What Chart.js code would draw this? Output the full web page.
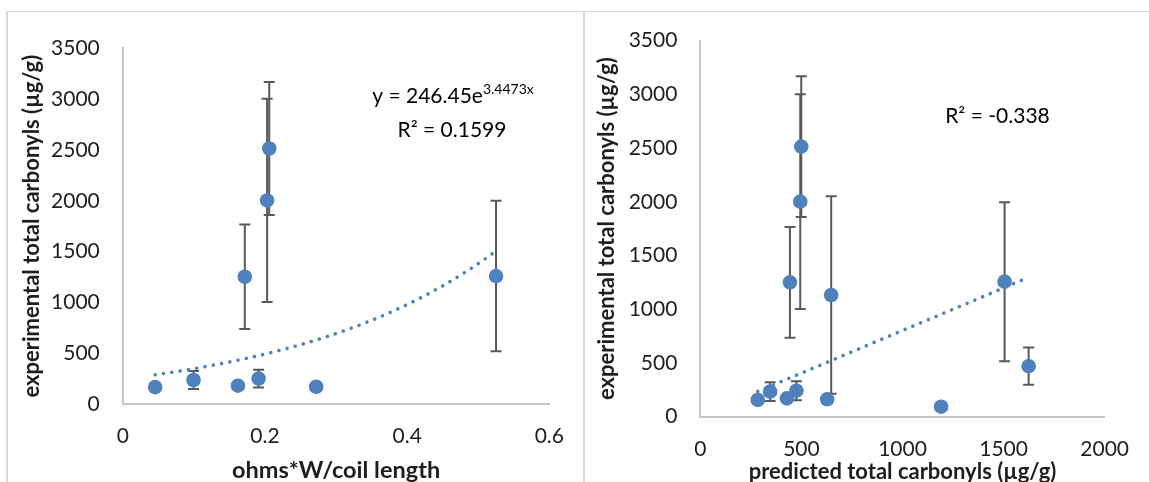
<!DOCTYPE html>
<html>
<head>
<meta charset="utf-8">
<script src="https://cdn.jsdelivr.net/npm/chart.js@4.4.1/dist/chart.umd.min.js"></script>
<style>
  html, body { margin: 0; padding: 0; background: #fff; }
  body { width: 1149px; height: 482px; overflow: hidden; position: relative; }
  .panel { position: absolute; top: 11px; border-top: 1px solid #d9d9d9; border-left: 2px solid #d9d9d9; height: 480px; }
  canvas { position: absolute; top: 0; }
</style>
</head>
<body>
<div class="panel" style="left:6px; width:578px;"></div>
<div class="panel" style="left:583px; width:570px;"></div>
<canvas id="left" width="584" height="500" style="left:0; width:584px; height:500px;"></canvas>
<canvas id="right" width="565" height="500" style="left:584px; width:565px; height:500px;"></canvas>
<script>
// left chart: ohms*W/coil length vs experimental carbonyls
const coilX = [0.0455, 0.0995, 0.162, 0.191, 0.272, 0.1716, 0.203, 0.206, 0.525];
const coilY = [166, 236, 180, 250, 170, 1252, 2003, 2514, 1259];
const coilErr = [0, 89, 0, 87, 0, 515, 1000, 655, 740];
// exponential trendline shown on the chart: y = 246.45 e^(3.4473x)
const expA = 246.45;
const expB = 3.4473;
const expRange = [0.0455, 0.525];

// right chart: predicted vs experimental carbonyls
const predX = [284, 345, 428, 475, 627, 443, 494, 499, 647, 1191, 1505, 1624];
const predY = [156, 233, 171, 242, 162, 1251, 2002, 2514, 1133, 93, 1257, 470];
const predErr = [0, 88, 0, 88, 0, 515, 1000, 655, 920, 0, 740, 173];
const linTrendX = [284, 1624];
const linTrendY = [235, 1297];

const yTicks = [0, 500, 1000, 1500, 2000, 2500, 3000, 3500];

const BLUE = '#4F81BD';
const BAR = '#595959';
const AXIS = '#c6c6c6';
const TEXT = '#1e1e1e';

Chart.defaults.font.family = 'Lato';
Chart.defaults.font.size = 21;
Chart.defaults.color = TEXT;

const errorBars = {
  id: 'errorBars',
  beforeDatasetsDraw(chart, args, opts) {
    const ctx = chart.ctx;
    const xs = chart.scales.x, ys = chart.scales.y;
    ctx.save();
    ctx.strokeStyle = BAR;
    ctx.lineWidth = 2;
    opts.x.forEach((xv, i) => {
      const e = opts.err[i];
      if (!e) return;
      const px = xs.getPixelForValue(xv);
      const top = ys.getPixelForValue(opts.y[i] + e);
      const bot = ys.getPixelForValue(opts.y[i] - e);
      ctx.beginPath();
      ctx.moveTo(px, top); ctx.lineTo(px, bot);
      ctx.moveTo(px - 5.5, top); ctx.lineTo(px + 5.5, top);
      ctx.moveTo(px - 5.5, bot); ctx.lineTo(px + 5.5, bot);
      ctx.stroke();
    });
    ctx.restore();
  }
};

const fitText = {
  id: 'fitText',
  afterDatasetsDraw(chart, args, opts) {
    const ctx = chart.ctx;
    ctx.save();
    ctx.fillStyle = '#000';
    ctx.textBaseline = 'alphabetic';
    opts.lines.forEach(line => {
      let total = 0;
      line.parts.forEach(p => {
        ctx.font = p.sup ? '14px Lato' : '21px Lato';
        total += ctx.measureText(p.text).width;
      });
      let x = line.cx - total / 2;
      line.parts.forEach(p => {
        ctx.font = p.sup ? '14px Lato' : '21px Lato';
        ctx.fillText(p.text, x, line.y - (p.sup ? 9 : 0));
        x += ctx.measureText(p.text).width;
      });
    });
    ctx.restore();
  }
};

function fmt(v) { return String(+v.toFixed(2)); }

function makeScales(xMin, xMax, xStep, xTitle, xTitleSize, xHeight, yWidth, yTitlePad) {
  return {
    x: {
      type: 'linear', min: xMin, max: xMax,
      afterBuildTicks: s => { s.ticks = []; for (let v = xMin; v <= xMax + 1e-9; v += xStep) s.ticks.push({ value: +v.toFixed(4) }); },
      ticks: { padding: 20, callback: fmt, maxRotation: 0 },
      grid: { display: false, drawTicks: false },
      border: { display: true, color: AXIS, width: 2 },
      title: { display: true, text: xTitle, font: { size: xTitleSize, weight: 'bold' }, padding: { top: 0, bottom: 15 } },
      afterFit: s => { s.height = xHeight; }
    },
    y: {
      type: 'linear', min: 0, max: 3500,
      afterBuildTicks: s => { s.ticks = yTicks.map(v => ({ value: v })); },
      ticks: { padding: 23, callback: fmt },
      grid: { display: false, drawTicks: false },
      border: { display: true, color: AXIS, width: 2 },
      title: { display: true, text: 'experimental total carbonyls (µg/g)', font: { size: 22, weight: 'bold' }, padding: { top: yTitlePad, bottom: 0 } },
      afterFit: s => { s.width = yWidth; }
    }
  };
}

// exponential fit curve from the equation printed on the chart
const expCurve = [];
for (let i = 0; i <= 60; i++) {
  const xv = expRange[0] + (expRange[1] - expRange[0]) * i / 60;
  expCurve.push({ x: xv, y: expA * Math.exp(expB * xv) });
}

const trendStyle = {
  showLine: true, pointRadius: 0, borderColor: BLUE, borderWidth: 3.6,
  borderDash: [0.01, 8.4], borderCapStyle: 'round', fill: false, tension: 0
};

new Chart(document.getElementById('left'), {
  type: 'scatter',
  data: {
    datasets: [
      Object.assign({ data: expCurve }, trendStyle),
      { data: coilX.map((x, i) => ({ x, y: coilY[i] })), pointRadius: 7.3, pointBackgroundColor: BLUE, pointBorderWidth: 0 }
    ]
  },
  options: {
    responsive: false, animation: false, devicePixelRatio: 1,
    layout: { padding: { left: 0, right: 31.7, top: 48.3, bottom: 0 } },
    plugins: {
      legend: { display: false }, tooltip: { enabled: false },
      errorBars: { x: coilX, y: coilY, err: coilErr },
      fitText: { lines: [
        { cx: 453, y: 103.3, parts: [{ text: 'y = 246.45e' }, { text: '3.4473x', sup: true }] },
        { cx: 452, y: 136.7, parts: [{ text: 'R² = 0.1599' }] }
      ] }
    },
    scales: makeScales(0, 0.6, 0.2, 'ohms*W/coil length', 23.5, 96, 122.8, 18.8)
  },
  plugins: [errorBars, fitText]
});

new Chart(document.getElementById('right'), {
  type: 'scatter',
  data: {
    datasets: [
      Object.assign({ data: linTrendX.map((x, i) => ({ x, y: linTrendY[i] })) }, trendStyle),
      { data: predX.map((x, i) => ({ x, y: predY[i] })), pointRadius: 7.3, pointBackgroundColor: BLUE, pointBorderWidth: 0 }
    ]
  },
  options: {
    responsive: false, animation: false, devicePixelRatio: 1,
    layout: { padding: { left: 0, right: 29.7, top: 40.7, bottom: 0 } },
    plugins: {
      legend: { display: false }, tooltip: { enabled: false },
      errorBars: { x: predX, y: predY, err: predErr },
      fitText: { lines: [
        { cx: 413.5, y: 123.3, parts: [{ text: 'R² = -0.338' }] }
      ] }
    },
    scales: makeScales(0, 2000, 500, 'predicted total carbonyls (µg/g)', 22, 83.3, 116.4, 9.8)
  },
  plugins: [errorBars, fitText]
});
</script>
</body>
</html>
